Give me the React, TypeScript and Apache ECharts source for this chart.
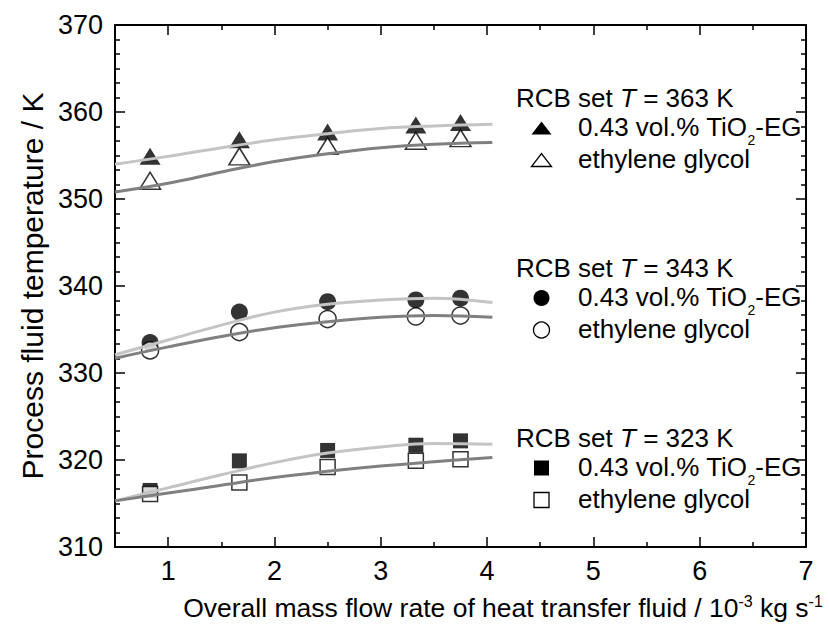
import React, { useEffect, useRef } from "react";
import * as echarts from "echarts";

// ---- data ----
const flowRates = [0.83, 1.67, 2.5, 3.33, 3.75];
const tio2_363 = [354.9, 356.8, 357.7, 358.5, 358.8];
const eg_363 = [352.1, 354.9, 356.1, 356.7, 357.0];
const tio2_343 = [333.5, 337.0, 338.2, 338.4, 338.6];
const eg_343 = [332.6, 334.7, 336.2, 336.5, 336.6];
const tio2_323 = [316.5, 319.9, 321.1, 321.7, 322.2];
const eg_323 = [316.1, 317.4, 319.2, 319.9, 320.1];

// fitted curves
const fitX = [0.5, 1, 1.5, 2, 2.5, 3, 3.5, 4.05];
const fitTio2_363 = [354.0, 354.9, 355.9, 356.8, 357.5, 358.1, 358.4, 358.6];
const fitEg_363 = [350.8, 351.8, 353.1, 354.3, 355.2, 355.9, 356.3, 356.5];
const fitTio2_343 = [332.1, 333.8, 335.5, 337.0, 337.9, 338.4, 338.6, 338.1];
const fitEg_343 = [331.7, 333.0, 334.2, 335.2, 335.9, 336.4, 336.6, 336.4];
const fitTio2_323 = [315.3, 316.8, 318.3, 319.7, 320.8, 321.5, 321.9, 321.8];
const fitEg_323 = [315.3, 316.2, 317.1, 318.0, 318.7, 319.3, 319.8, 320.3];

const xMajorTicks = [1, 2, 3, 4, 5, 6, 7];
const xMinorTicks = [1.5, 2.5, 3.5, 4.5, 5.5, 6.5];
const setTemps = ["363", "343", "323"];
const legendTio2 = "0.43 vol.% TiO{sub|2}-EG";
const legendEg = "ethylene glycol";
const yTitle = "Process fluid temperature / K";
const xTitle = "Overall mass flow rate of heat transfer fluid / 10{sup|-3} kg s{sup|-1}";

const FONT = "'Liberation Sans', Arial, Helvetica, sans-serif";
const LIGHT = "#c4c4c4";
const DARK = "#808080";

const pairs = (xs: number[], ys: number[]) => xs.map((x, i) => [x, ys[i]]);

export default function App() {
  const ref = useRef<HTMLDivElement>(null);
  useEffect(() => {
    if (!ref.current) return;
    const chart = echarts.init(ref.current, undefined, { renderer: "svg" });

    const axisLine = { show: true, onZero: false, lineStyle: { color: "#000", width: 2 } };
    const tickStyle = { color: "#000", width: 1.5 };
    const xBase = (position: string, ticks: number[], len: number, labels: boolean, line: boolean) => ({
      type: "value",
      min: 0.5,
      max: 7,
      position,
      offset: 0,
      axisLine: { ...axisLine, show: line },
      axisTick: { show: true, inside: true, length: len, customValues: ticks, lineStyle: tickStyle },
      axisLabel: labels
        ? { show: true, customValues: xMajorTicks, fontSize: 27, color: "#000", fontFamily: FONT, margin: 10 }
        : { show: false },
      splitLine: { show: false },
    });
    const yBase = (position: string, labels: boolean) => ({
      type: "value",
      min: 310,
      max: 370,
      interval: 10,
      position,
      offset: 0,
      axisLine,
      axisTick: { show: true, inside: true, length: 10, lineStyle: tickStyle },
      minorTick: { show: true, splitNumber: 6, length: 5, lineStyle: tickStyle },
      axisLabel: labels ? { show: true, fontSize: 27, color: "#000", fontFamily: FONT, margin: 12 } : { show: false },
      splitLine: { show: false },
      minorSplitLine: { show: false },
    });

    const scatter = (data: number[], symbol: string, size: any, filled: boolean) => ({
      type: "scatter",
      xAxisIndex: 0,
      yAxisIndex: 0,
      data: pairs(flowRates, data),
      symbol,
      symbolSize: size,
      z: filled ? 2 : 3,
      itemStyle: filled
        ? { color: "#000" }
        : { color: "#fff", borderColor: "#000", borderWidth: 1.5 },
      silent: true,
    });
    const fit = (data: number[], color: string) => ({
      type: "line",
      xAxisIndex: 0,
      yAxisIndex: 0,
      data: pairs(fitX, data),
      smooth: 0.4,
      showSymbol: false,
      symbol: "none",
      z: 4,
      lineStyle: { color, width: 3 },
      silent: true,
    });

    const tri = [21, 17];
    const graphics: any[] = [];
    const groupY = [98, 268, 438];
    const shapes = ["triangle", "circle", "square"];
    groupY.forEach((gy, gi) => {
      graphics.push({
        type: "text",
        x: 516,
        y: gy,
        style: {
          text: "RCB set {i|T} = " + setTemps[gi] + " K",
          fontSize: 26,
          fontFamily: FONT,
          fill: "#000",
          align: "left",
          verticalAlign: "middle",
          rich: { i: { fontStyle: "italic", fontSize: 26, fontFamily: FONT } },
        },
      });
      graphics.push({
        type: "text",
        x: 578,
        y: gy + 29,
        style: {
          text: legendTio2,
          fontSize: 26,
          fontFamily: FONT,
          fill: "#000",
          align: "left",
          verticalAlign: "middle",
          lineHeight: 40,
          rich: { sub: { fontSize: 14, fontFamily: FONT, verticalAlign: "bottom", lineHeight: 14 } },
        },
      });
      graphics.push({
        type: "text",
        x: 578,
        y: gy + 61,
        style: { text: legendEg, fontSize: 26, fontFamily: FONT, fill: "#000", align: "left", verticalAlign: "middle" },
      });
      const cx = 541.5;
      [gy + 30, gy + 62].forEach((cy, k) => {
        const style = k === 0 ? { fill: "#000" } : { fill: "#fff", stroke: "#000", lineWidth: 1.3 };
        const s = shapes[gi];
        if (s === "triangle") {
          graphics.push({
            type: "polygon",
            shape: { points: [[cx - 10, cy + 6.5], [cx + 10, cy + 6.5], [cx, cy - 6.5]] },
            style,
          });
        } else if (s === "circle") {
          graphics.push({ type: "circle", shape: { cx, cy, r: 8 }, style });
        } else {
          graphics.push({ type: "rect", shape: { x: cx - 7.5, y: cy - 7.5, width: 15, height: 15 }, style });
        }
      });
    });
    graphics.push({
      type: "text",
      x: 503,
      y: 608,
      style: {
        text: xTitle,
        fontSize: 26.5,
        fontFamily: FONT,
        fill: "#000",
        align: "center",
        verticalAlign: "middle",
        lineHeight: 30,
        rich: { sup: { fontSize: 16, fontFamily: FONT, verticalAlign: "top", lineHeight: 16 } },
      },
    });

    chart.setOption({
      animation: false,
      backgroundColor: "#fff",
      grid: { left: 115, right: 23, top: 25, bottom: 84, containLabel: false },
      xAxis: [
        xBase("bottom", xMajorTicks, 10, true, true),
        xBase("bottom", xMinorTicks, 5, false, false),
        xBase("top", xMajorTicks, 10, false, true),
        xBase("top", xMinorTicks, 5, false, false),
      ],
      yAxis: [
        {
          ...yBase("left", true),
          name: yTitle,
          nameLocation: "middle",
          nameRotate: 90,
          nameGap: 59,
          nameTextStyle: { fontSize: 30, fontFamily: FONT, color: "#000" },
        },
        yBase("right", false),
      ],
      series: [
        scatter(tio2_363, "triangle", tri, true),
        scatter(tio2_343, "circle", 17, true),
        scatter(tio2_323, "rect", 15, true),
        scatter(eg_363, "triangle", tri, false),
        scatter(eg_343, "circle", 17, false),
        scatter(eg_323, "rect", 15, false),
        fit(fitTio2_363, LIGHT),
        fit(fitEg_363, DARK),
        fit(fitTio2_343, LIGHT),
        fit(fitEg_343, DARK),
        fit(fitTio2_323, LIGHT),
        fit(fitEg_323, DARK),
      ],
      graphic: graphics,
    });
    return () => chart.dispose();
  }, []);

  return <div ref={ref} style={{ width: 829, height: 631, position: "absolute", left: 0, top: 0 }} />;
}
